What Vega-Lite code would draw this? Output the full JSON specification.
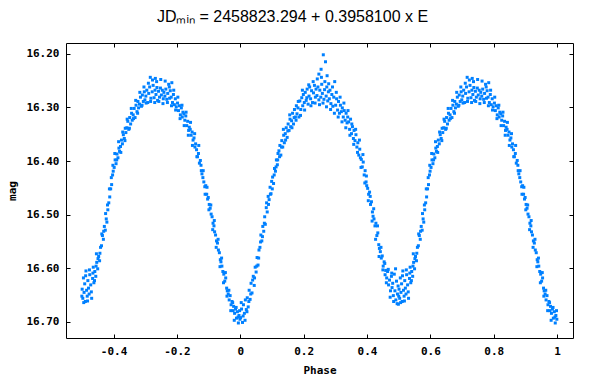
{
  "$schema": "https://vega.github.io/schema/vega-lite/v6.json",
  "width": 507,
  "height": 295,
  "autosize": "none",
  "padding": {"left": 66, "top": 43, "right": 36, "bottom": 44},
  "background": "white",
  "title": {
    "text": "JD\u2098\u1d62\u2099 = 2458823.294 + 0.3958100 x E",
    "font": "Liberation Sans",
    "fontSize": 16,
    "fontWeight": "normal",
    "color": "black",
    "anchor": "middle",
    "dx": -27,
    "offset": 18
  },
  "data": {"values": [
{"phase":0.001,"mag":16.692},{"phase":0.004,"mag":16.676},{"phase":0.007,"mag":16.701},{"phase":0.010,"mag":16.668},{"phase":0.013,"mag":16.684},{"phase":0.016,"mag":16.659},{"phase":0.019,"mag":16.677},
{"phase":0.022,"mag":16.655},{"phase":0.025,"mag":16.672},{"phase":0.028,"mag":16.641},{"phase":0.031,"mag":16.658},{"phase":0.034,"mag":16.628},{"phase":0.037,"mag":16.646},
{"phase":0.041,"mag":16.615},{"phase":0.044,"mag":16.632},{"phase":0.047,"mag":16.598},{"phase":0.050,"mag":16.607},{"phase":0.053,"mag":16.580},{"phase":0.056,"mag":16.594},{"phase":0.059,"mag":16.566},
{"phase":0.062,"mag":16.561},{"phase":0.065,"mag":16.538},{"phase":0.068,"mag":16.549},{"phase":0.071,"mag":16.522},{"phase":0.074,"mag":16.531},{"phase":0.077,"mag":16.504},{"phase":0.079,"mag":16.518},
{"phase":0.082,"mag":16.487},{"phase":0.085,"mag":16.495},{"phase":0.088,"mag":16.466},{"phase":0.091,"mag":16.472},{"phase":0.094,"mag":16.449},{"phase":0.097,"mag":16.461},{"phase":0.099,"mag":16.438},
{"phase":0.102,"mag":16.430},{"phase":0.105,"mag":16.442},{"phase":0.108,"mag":16.414},{"phase":0.111,"mag":16.419},{"phase":0.114,"mag":16.398},{"phase":0.117,"mag":16.407},{"phase":0.119,"mag":16.386},
{"phase":0.122,"mag":16.381},{"phase":0.125,"mag":16.371},{"phase":0.128,"mag":16.389},{"phase":0.131,"mag":16.362},{"phase":0.134,"mag":16.374},{"phase":0.137,"mag":16.352},{"phase":0.139,"mag":16.366},
{"phase":0.142,"mag":16.349},{"phase":0.145,"mag":16.338},{"phase":0.148,"mag":16.356},{"phase":0.151,"mag":16.331},{"phase":0.154,"mag":16.343},{"phase":0.157,"mag":16.322},{"phase":0.159,"mag":16.336},
{"phase":0.162,"mag":16.325},{"phase":0.165,"mag":16.311},{"phase":0.168,"mag":16.331},{"phase":0.171,"mag":16.304},{"phase":0.174,"mag":16.318},{"phase":0.177,"mag":16.297},{"phase":0.179,"mag":16.312},
{"phase":0.182,"mag":16.301},{"phase":0.185,"mag":16.318},{"phase":0.188,"mag":16.288},{"phase":0.191,"mag":16.304},{"phase":0.194,"mag":16.282},{"phase":0.197,"mag":16.297},{"phase":0.199,"mag":16.276},
{"phase":0.202,"mag":16.291},{"phase":0.205,"mag":16.272},{"phase":0.208,"mag":16.287},{"phase":0.211,"mag":16.266},{"phase":0.214,"mag":16.294},{"phase":0.217,"mag":16.279},{"phase":0.219,"mag":16.262},
{"phase":0.222,"mag":16.284},{"phase":0.225,"mag":16.269},{"phase":0.228,"mag":16.291},{"phase":0.231,"mag":16.273},{"phase":0.234,"mag":16.259},{"phase":0.237,"mag":16.281},{"phase":0.239,"mag":16.266},
{"phase":0.242,"mag":16.278},{"phase":0.245,"mag":16.262},{"phase":0.248,"mag":16.286},{"phase":0.248,"mag":16.238},{"phase":0.251,"mag":16.268},{"phase":0.254,"mag":16.281},{"phase":0.255,"mag":16.229},{"phase":0.257,"mag":16.257},{"phase":0.259,"mag":16.274},
{"phase":0.262,"mag":16.202},{"phase":0.264,"mag":16.285},{"phase":0.266,"mag":16.267},{"phase":0.269,"mag":16.215},{"phase":0.271,"mag":16.279},{"phase":0.273,"mag":16.262},{"phase":0.274,"mag":16.241},{"phase":0.276,"mag":16.288},{"phase":0.278,"mag":16.271},
{"phase":0.281,"mag":16.284},{"phase":0.283,"mag":16.268},{"phase":0.286,"mag":16.293},{"phase":0.289,"mag":16.276},{"phase":0.292,"mag":16.298},{"phase":0.295,"mag":16.281},{"phase":0.298,"mag":16.252},
{"phase":0.301,"mag":16.296},{"phase":0.304,"mag":16.284},{"phase":0.307,"mag":16.305},{"phase":0.310,"mag":16.289},{"phase":0.313,"mag":16.311},{"phase":0.316,"mag":16.296},{"phase":0.319,"mag":16.308},
{"phase":0.322,"mag":16.301},{"phase":0.325,"mag":16.318},{"phase":0.328,"mag":16.306},{"phase":0.331,"mag":16.324},{"phase":0.334,"mag":16.311},{"phase":0.337,"mag":16.329},{"phase":0.339,"mag":16.318},
{"phase":0.342,"mag":16.327},{"phase":0.345,"mag":16.341},{"phase":0.348,"mag":16.322},{"phase":0.351,"mag":16.349},{"phase":0.354,"mag":16.336},{"phase":0.357,"mag":16.358},{"phase":0.359,"mag":16.343},
{"phase":0.362,"mag":16.362},{"phase":0.365,"mag":16.351},{"phase":0.368,"mag":16.374},{"phase":0.371,"mag":16.366},{"phase":0.374,"mag":16.389},{"phase":0.377,"mag":16.378},{"phase":0.379,"mag":16.394},
{"phase":0.382,"mag":16.397},{"phase":0.385,"mag":16.411},{"phase":0.388,"mag":16.402},{"phase":0.391,"mag":16.426},{"phase":0.394,"mag":16.418},{"phase":0.397,"mag":16.439},{"phase":0.399,"mag":16.446},
{"phase":0.402,"mag":16.451},{"phase":0.405,"mag":16.462},{"phase":0.408,"mag":16.458},{"phase":0.411,"mag":16.481},{"phase":0.414,"mag":16.476},{"phase":0.417,"mag":16.495},{"phase":0.419,"mag":16.503},
{"phase":0.422,"mag":16.508},{"phase":0.425,"mag":16.521},{"phase":0.428,"mag":16.516},{"phase":0.431,"mag":16.539},{"phase":0.434,"mag":16.534},{"phase":0.437,"mag":16.556},{"phase":0.439,"mag":16.563},
{"phase":0.442,"mag":16.569},{"phase":0.445,"mag":16.581},{"phase":0.448,"mag":16.577},{"phase":0.451,"mag":16.596},{"phase":0.454,"mag":16.588},{"phase":0.457,"mag":16.612},{"phase":0.459,"mag":16.604},
{"phase":0.462,"mag":16.618},{"phase":0.465,"mag":16.606},{"phase":0.468,"mag":16.631},{"phase":0.471,"mag":16.622},{"phase":0.474,"mag":16.642},{"phase":0.477,"mag":16.615},{"phase":0.479,"mag":16.636},
{"phase":0.481,"mag":16.628},{"phase":0.483,"mag":16.651},{"phase":0.486,"mag":16.611},{"phase":0.488,"mag":16.642},{"phase":0.491,"mag":16.659},{"phase":0.493,"mag":16.624},{"phase":0.496,"mag":16.648},{"phase":0.498,"mag":16.633},{"phase":0.499,"mag":16.667},
{"phase":0.501,"mag":16.639},{"phase":0.503,"mag":16.656},{"phase":0.505,"mag":16.618},{"phase":0.507,"mag":16.645},{"phase":0.509,"mag":16.629},{"phase":0.511,"mag":16.662},{"phase":0.513,"mag":16.605},{"phase":0.515,"mag":16.641},{"phase":0.517,"mag":16.652},{"phase":0.519,"mag":16.623},
{"phase":0.521,"mag":16.637},{"phase":0.523,"mag":16.648},{"phase":0.525,"mag":16.612},{"phase":0.528,"mag":16.631},{"phase":0.531,"mag":16.656},{"phase":0.534,"mag":16.619},{"phase":0.536,"mag":16.598},{"phase":0.538,"mag":16.627},
{"phase":0.541,"mag":16.606},{"phase":0.544,"mag":16.615},{"phase":0.546,"mag":16.573},{"phase":0.547,"mag":16.589},{"phase":0.550,"mag":16.601},{"phase":0.553,"mag":16.578},{"phase":0.556,"mag":16.586},{"phase":0.559,"mag":16.561},
{"phase":0.562,"mag":16.558},{"phase":0.565,"mag":16.539},{"phase":0.568,"mag":16.546},{"phase":0.571,"mag":16.522},{"phase":0.574,"mag":16.529},{"phase":0.577,"mag":16.508},{"phase":0.579,"mag":16.514},
{"phase":0.582,"mag":16.491},{"phase":0.585,"mag":16.478},{"phase":0.588,"mag":16.467},{"phase":0.591,"mag":16.452},{"phase":0.594,"mag":16.444},{"phase":0.597,"mag":16.426},{"phase":0.599,"mag":16.419},
{"phase":0.602,"mag":16.412},{"phase":0.605,"mag":16.398},{"phase":0.608,"mag":16.405},{"phase":0.611,"mag":16.387},{"phase":0.614,"mag":16.394},{"phase":0.617,"mag":16.376},{"phase":0.619,"mag":16.382},
{"phase":0.622,"mag":16.373},{"phase":0.625,"mag":16.361},{"phase":0.628,"mag":16.368},{"phase":0.631,"mag":16.351},{"phase":0.634,"mag":16.358},{"phase":0.637,"mag":16.339},{"phase":0.639,"mag":16.347},
{"phase":0.642,"mag":16.338},{"phase":0.645,"mag":16.326},{"phase":0.648,"mag":16.341},{"phase":0.651,"mag":16.319},{"phase":0.654,"mag":16.331},{"phase":0.657,"mag":16.311},{"phase":0.659,"mag":16.324},
{"phase":0.662,"mag":16.314},{"phase":0.665,"mag":16.302},{"phase":0.668,"mag":16.319},{"phase":0.671,"mag":16.296},{"phase":0.674,"mag":16.308},{"phase":0.677,"mag":16.289},{"phase":0.679,"mag":16.301},
{"phase":0.682,"mag":16.294},{"phase":0.685,"mag":16.281},{"phase":0.688,"mag":16.298},{"phase":0.691,"mag":16.277},{"phase":0.694,"mag":16.289},{"phase":0.697,"mag":16.271},{"phase":0.699,"mag":16.286},
{"phase":0.702,"mag":16.279},{"phase":0.705,"mag":16.268},{"phase":0.708,"mag":16.291},{"phase":0.711,"mag":16.274},{"phase":0.714,"mag":16.262},{"phase":0.716,"mag":16.244},{"phase":0.718,"mag":16.283},
{"phase":0.722,"mag":16.271},{"phase":0.725,"mag":16.259},{"phase":0.728,"mag":16.282},{"phase":0.731,"mag":16.268},{"phase":0.732,"mag":16.246},{"phase":0.734,"mag":16.276},{"phase":0.737,"mag":16.263},{"phase":0.739,"mag":16.287},
{"phase":0.742,"mag":16.270},{"phase":0.745,"mag":16.281},{"phase":0.748,"mag":16.264},{"phase":0.751,"mag":16.277},{"phase":0.754,"mag":16.268},{"phase":0.757,"mag":16.284},{"phase":0.759,"mag":16.272},
{"phase":0.762,"mag":16.279},{"phase":0.765,"mag":16.266},{"phase":0.768,"mag":16.285},{"phase":0.771,"mag":16.274},{"phase":0.774,"mag":16.257},{"phase":0.777,"mag":16.283},{"phase":0.779,"mag":16.269},
{"phase":0.782,"mag":16.281},{"phase":0.784,"mag":16.254},{"phase":0.786,"mag":16.291},{"phase":0.789,"mag":16.276},{"phase":0.792,"mag":16.295},{"phase":0.795,"mag":16.284},{"phase":0.798,"mag":16.299},
{"phase":0.802,"mag":16.292},{"phase":0.805,"mag":16.306},{"phase":0.808,"mag":16.297},{"phase":0.811,"mag":16.314},{"phase":0.814,"mag":16.301},{"phase":0.817,"mag":16.318},{"phase":0.819,"mag":16.309},
{"phase":0.822,"mag":16.312},{"phase":0.825,"mag":16.324},{"phase":0.828,"mag":16.316},{"phase":0.831,"mag":16.334},{"phase":0.834,"mag":16.326},{"phase":0.837,"mag":16.343},{"phase":0.839,"mag":16.337},
{"phase":0.842,"mag":16.341},{"phase":0.845,"mag":16.352},{"phase":0.848,"mag":16.346},{"phase":0.851,"mag":16.361},{"phase":0.854,"mag":16.357},{"phase":0.857,"mag":16.374},{"phase":0.859,"mag":16.368},
{"phase":0.862,"mag":16.379},{"phase":0.865,"mag":16.392},{"phase":0.868,"mag":16.386},{"phase":0.871,"mag":16.404},{"phase":0.874,"mag":16.399},{"phase":0.877,"mag":16.418},{"phase":0.879,"mag":16.424},
{"phase":0.882,"mag":16.431},{"phase":0.885,"mag":16.439},{"phase":0.888,"mag":16.448},{"phase":0.891,"mag":16.446},{"phase":0.894,"mag":16.462},{"phase":0.897,"mag":16.471},{"phase":0.899,"mag":16.468},
{"phase":0.902,"mag":16.481},{"phase":0.905,"mag":16.488},{"phase":0.908,"mag":16.499},{"phase":0.911,"mag":16.504},{"phase":0.914,"mag":16.516},{"phase":0.917,"mag":16.521},{"phase":0.919,"mag":16.532},
{"phase":0.922,"mag":16.538},{"phase":0.925,"mag":16.549},{"phase":0.928,"mag":16.553},{"phase":0.931,"mag":16.566},{"phase":0.934,"mag":16.571},{"phase":0.937,"mag":16.584},{"phase":0.939,"mag":16.588},
{"phase":0.942,"mag":16.596},{"phase":0.945,"mag":16.606},{"phase":0.948,"mag":16.611},{"phase":0.951,"mag":16.624},{"phase":0.954,"mag":16.618},{"phase":0.957,"mag":16.637},{"phase":0.959,"mag":16.642},
{"phase":0.962,"mag":16.648},{"phase":0.965,"mag":16.659},{"phase":0.968,"mag":16.651},{"phase":0.971,"mag":16.668},{"phase":0.974,"mag":16.662},{"phase":0.977,"mag":16.679},{"phase":0.979,"mag":16.671},
{"phase":0.982,"mag":16.684},{"phase":0.985,"mag":16.676},{"phase":0.988,"mag":16.693},{"phase":0.991,"mag":16.681},{"phase":0.994,"mag":16.702},{"phase":0.996,"mag":16.688},{"phase":0.999,"mag":16.695},
{"phase":-0.499,"mag":16.639},{"phase":-0.497,"mag":16.656},{"phase":-0.495,"mag":16.618},{"phase":-0.493,"mag":16.645},{"phase":-0.491,"mag":16.629},{"phase":-0.489,"mag":16.662},{"phase":-0.487,"mag":16.605},{"phase":-0.485,"mag":16.641},{"phase":-0.483,"mag":16.652},{"phase":-0.481,"mag":16.623},
{"phase":-0.479,"mag":16.637},{"phase":-0.477,"mag":16.648},{"phase":-0.475,"mag":16.612},{"phase":-0.472,"mag":16.631},{"phase":-0.469,"mag":16.656},{"phase":-0.466,"mag":16.619},{"phase":-0.464,"mag":16.598},{"phase":-0.462,"mag":16.627},
{"phase":-0.459,"mag":16.606},{"phase":-0.456,"mag":16.615},{"phase":-0.454,"mag":16.573},{"phase":-0.453,"mag":16.589},{"phase":-0.450,"mag":16.601},{"phase":-0.447,"mag":16.578},{"phase":-0.444,"mag":16.586},{"phase":-0.441,"mag":16.561},
{"phase":-0.438,"mag":16.558},{"phase":-0.435,"mag":16.539},{"phase":-0.432,"mag":16.546},{"phase":-0.429,"mag":16.522},{"phase":-0.426,"mag":16.529},{"phase":-0.423,"mag":16.508},{"phase":-0.421,"mag":16.514},
{"phase":-0.418,"mag":16.491},{"phase":-0.415,"mag":16.478},{"phase":-0.412,"mag":16.467},{"phase":-0.409,"mag":16.452},{"phase":-0.406,"mag":16.444},{"phase":-0.403,"mag":16.426},{"phase":-0.401,"mag":16.419},
{"phase":-0.398,"mag":16.412},{"phase":-0.395,"mag":16.398},{"phase":-0.392,"mag":16.405},{"phase":-0.389,"mag":16.387},{"phase":-0.386,"mag":16.394},{"phase":-0.383,"mag":16.376},{"phase":-0.381,"mag":16.382},
{"phase":-0.378,"mag":16.373},{"phase":-0.375,"mag":16.361},{"phase":-0.372,"mag":16.368},{"phase":-0.369,"mag":16.351},{"phase":-0.366,"mag":16.358},{"phase":-0.363,"mag":16.339},{"phase":-0.361,"mag":16.347},
{"phase":-0.358,"mag":16.338},{"phase":-0.355,"mag":16.326},{"phase":-0.352,"mag":16.341},{"phase":-0.349,"mag":16.319},{"phase":-0.346,"mag":16.331},{"phase":-0.343,"mag":16.311},{"phase":-0.341,"mag":16.324},
{"phase":-0.338,"mag":16.314},{"phase":-0.335,"mag":16.302},{"phase":-0.332,"mag":16.319},{"phase":-0.329,"mag":16.296},{"phase":-0.326,"mag":16.308},{"phase":-0.323,"mag":16.289},{"phase":-0.321,"mag":16.301},
{"phase":-0.318,"mag":16.294},{"phase":-0.315,"mag":16.281},{"phase":-0.312,"mag":16.298},{"phase":-0.309,"mag":16.277},{"phase":-0.306,"mag":16.289},{"phase":-0.303,"mag":16.271},{"phase":-0.301,"mag":16.286},
{"phase":-0.298,"mag":16.279},{"phase":-0.295,"mag":16.268},{"phase":-0.292,"mag":16.291},{"phase":-0.289,"mag":16.274},{"phase":-0.286,"mag":16.262},{"phase":-0.284,"mag":16.244},{"phase":-0.282,"mag":16.283},
{"phase":-0.278,"mag":16.271},{"phase":-0.275,"mag":16.259},{"phase":-0.272,"mag":16.282},{"phase":-0.269,"mag":16.268},{"phase":-0.268,"mag":16.246},{"phase":-0.266,"mag":16.276},{"phase":-0.263,"mag":16.263},{"phase":-0.261,"mag":16.287},
{"phase":-0.258,"mag":16.270},{"phase":-0.255,"mag":16.281},{"phase":-0.252,"mag":16.264},{"phase":-0.249,"mag":16.277},{"phase":-0.246,"mag":16.268},{"phase":-0.243,"mag":16.284},{"phase":-0.241,"mag":16.272},
{"phase":-0.238,"mag":16.279},{"phase":-0.235,"mag":16.266},{"phase":-0.232,"mag":16.285},{"phase":-0.229,"mag":16.274},{"phase":-0.226,"mag":16.257},{"phase":-0.223,"mag":16.283},{"phase":-0.221,"mag":16.269},
{"phase":-0.218,"mag":16.281},{"phase":-0.216,"mag":16.254},{"phase":-0.214,"mag":16.291},{"phase":-0.211,"mag":16.276},{"phase":-0.208,"mag":16.295},{"phase":-0.205,"mag":16.284},{"phase":-0.202,"mag":16.299},
{"phase":-0.198,"mag":16.292},{"phase":-0.195,"mag":16.306},{"phase":-0.192,"mag":16.297},{"phase":-0.189,"mag":16.314},{"phase":-0.186,"mag":16.301},{"phase":-0.183,"mag":16.318},{"phase":-0.181,"mag":16.309},
{"phase":-0.178,"mag":16.312},{"phase":-0.175,"mag":16.324},{"phase":-0.172,"mag":16.316},{"phase":-0.169,"mag":16.334},{"phase":-0.166,"mag":16.326},{"phase":-0.163,"mag":16.343},{"phase":-0.161,"mag":16.337},
{"phase":-0.158,"mag":16.341},{"phase":-0.155,"mag":16.352},{"phase":-0.152,"mag":16.346},{"phase":-0.149,"mag":16.361},{"phase":-0.146,"mag":16.357},{"phase":-0.143,"mag":16.374},{"phase":-0.141,"mag":16.368},
{"phase":-0.138,"mag":16.379},{"phase":-0.135,"mag":16.392},{"phase":-0.132,"mag":16.386},{"phase":-0.129,"mag":16.404},{"phase":-0.126,"mag":16.399},{"phase":-0.123,"mag":16.418},{"phase":-0.121,"mag":16.424},
{"phase":-0.118,"mag":16.431},{"phase":-0.115,"mag":16.439},{"phase":-0.112,"mag":16.448},{"phase":-0.109,"mag":16.446},{"phase":-0.106,"mag":16.462},{"phase":-0.103,"mag":16.471},{"phase":-0.101,"mag":16.468},
{"phase":-0.098,"mag":16.481},{"phase":-0.095,"mag":16.488},{"phase":-0.092,"mag":16.499},{"phase":-0.089,"mag":16.504},{"phase":-0.086,"mag":16.516},{"phase":-0.083,"mag":16.521},{"phase":-0.081,"mag":16.532},
{"phase":-0.078,"mag":16.538},{"phase":-0.075,"mag":16.549},{"phase":-0.072,"mag":16.553},{"phase":-0.069,"mag":16.566},{"phase":-0.066,"mag":16.571},{"phase":-0.063,"mag":16.584},{"phase":-0.061,"mag":16.588},
{"phase":-0.058,"mag":16.596},{"phase":-0.055,"mag":16.606},{"phase":-0.052,"mag":16.611},{"phase":-0.049,"mag":16.624},{"phase":-0.046,"mag":16.618},{"phase":-0.043,"mag":16.637},{"phase":-0.041,"mag":16.642},
{"phase":-0.038,"mag":16.648},{"phase":-0.035,"mag":16.659},{"phase":-0.032,"mag":16.651},{"phase":-0.029,"mag":16.668},{"phase":-0.026,"mag":16.662},{"phase":-0.023,"mag":16.679},{"phase":-0.021,"mag":16.671},
{"phase":-0.018,"mag":16.684},{"phase":-0.015,"mag":16.676},{"phase":-0.012,"mag":16.693},{"phase":-0.009,"mag":16.681},{"phase":-0.006,"mag":16.702},{"phase":-0.004,"mag":16.688},{"phase":-0.001,"mag":16.695},
{"phase":0.003,"mag":16.664},{"phase":0.009,"mag":16.689},{"phase":0.015,"mag":16.697},{"phase":0.021,"mag":16.681},{"phase":0.027,"mag":16.662},{"phase":0.033,"mag":16.648},{"phase":0.039,"mag":16.622},{"phase":0.045,"mag":16.618},{"phase":0.052,"mag":16.596},{"phase":0.058,"mag":16.581},
{"phase":0.064,"mag":16.551},{"phase":0.070,"mag":16.541},{"phase":0.076,"mag":16.516},{"phase":0.083,"mag":16.478},{"phase":0.089,"mag":16.481},{"phase":0.095,"mag":16.462},{"phase":0.101,"mag":16.452},{"phase":0.107,"mag":16.426},{"phase":0.113,"mag":16.411},{"phase":0.118,"mag":16.398},
{"phase":0.124,"mag":16.392},{"phase":0.130,"mag":16.374},{"phase":0.136,"mag":16.341},{"phase":0.143,"mag":16.361},{"phase":0.150,"mag":16.344},{"phase":0.156,"mag":16.314},{"phase":0.163,"mag":16.338},{"phase":0.170,"mag":16.319},{"phase":0.176,"mag":16.324},{"phase":0.183,"mag":16.289},
{"phase":0.190,"mag":16.315},{"phase":0.196,"mag":16.268},{"phase":0.203,"mag":16.305},{"phase":0.210,"mag":16.282},{"phase":0.216,"mag":16.258},{"phase":0.223,"mag":16.297},{"phase":0.230,"mag":16.252},{"phase":0.236,"mag":16.292},{"phase":0.243,"mag":16.247},{"phase":0.250,"mag":16.295},
{"phase":0.256,"mag":16.244},{"phase":0.261,"mag":16.292},{"phase":0.267,"mag":16.252},{"phase":0.272,"mag":16.299},{"phase":0.279,"mag":16.256},{"phase":0.285,"mag":16.304},{"phase":0.291,"mag":16.262},{"phase":0.297,"mag":16.311},{"phase":0.303,"mag":16.272},{"phase":0.309,"mag":16.318},
{"phase":0.315,"mag":16.281},{"phase":0.321,"mag":16.327},{"phase":0.327,"mag":16.292},{"phase":0.333,"mag":16.338},{"phase":0.340,"mag":16.306},{"phase":0.346,"mag":16.352},{"phase":0.352,"mag":16.331},{"phase":0.358,"mag":16.369},{"phase":0.364,"mag":16.341},{"phase":0.370,"mag":16.384},
{"phase":0.376,"mag":16.361},{"phase":0.381,"mag":16.412},{"phase":0.387,"mag":16.388},{"phase":0.393,"mag":16.441},{"phase":0.398,"mag":16.428},{"phase":0.404,"mag":16.474},{"phase":0.410,"mag":16.466},{"phase":0.416,"mag":16.512},{"phase":0.421,"mag":16.489},{"phase":0.427,"mag":16.546},
{"phase":0.433,"mag":16.521},{"phase":0.438,"mag":16.578},{"phase":0.444,"mag":16.561},{"phase":0.450,"mag":16.603},{"phase":0.456,"mag":16.591},{"phase":0.461,"mag":16.627},{"phase":0.467,"mag":16.602},{"phase":0.473,"mag":16.654},{"phase":0.478,"mag":16.609},{"phase":0.484,"mag":16.662},
{"phase":0.490,"mag":16.601},{"phase":0.495,"mag":16.666},
{"phase":0.500,"mag":16.652},{"phase":0.506,"mag":16.664},{"phase":0.512,"mag":16.614},{"phase":0.518,"mag":16.661},{"phase":0.524,"mag":16.603},{"phase":0.530,"mag":16.644},{"phase":0.535,"mag":16.609},{"phase":0.540,"mag":16.623},{"phase":0.545,"mag":16.596},{"phase":0.551,"mag":16.582},
{"phase":0.557,"mag":16.572},{"phase":0.563,"mag":16.536},{"phase":0.569,"mag":16.531},{"phase":0.575,"mag":16.498},{"phase":0.581,"mag":16.482},{"phase":0.587,"mag":16.452},{"phase":0.593,"mag":16.431},{"phase":0.598,"mag":16.408},{"phase":0.604,"mag":16.386},{"phase":0.610,"mag":16.398},
{"phase":0.616,"mag":16.364},{"phase":0.623,"mag":16.384},{"phase":0.629,"mag":16.346},{"phase":0.636,"mag":16.362},{"phase":0.643,"mag":16.322},{"phase":0.650,"mag":16.339},{"phase":0.656,"mag":16.302},{"phase":0.663,"mag":16.321},{"phase":0.670,"mag":16.287},{"phase":0.676,"mag":16.311},
{"phase":0.683,"mag":16.272},{"phase":0.690,"mag":16.296},{"phase":0.696,"mag":16.262},{"phase":0.703,"mag":16.292},{"phase":0.710,"mag":16.255},{"phase":0.717,"mag":16.289},{"phase":0.723,"mag":16.249},{"phase":0.730,"mag":16.291},{"phase":0.736,"mag":16.252},{"phase":0.743,"mag":16.289},
{"phase":0.749,"mag":16.248},{"phase":0.756,"mag":16.293},{"phase":0.763,"mag":16.251},{"phase":0.770,"mag":16.291},{"phase":0.776,"mag":16.262},{"phase":0.783,"mag":16.297},{"phase":0.790,"mag":16.268},{"phase":0.796,"mag":16.305},{"phase":0.803,"mag":16.281},{"phase":0.810,"mag":16.321},
{"phase":0.816,"mag":16.296},{"phase":0.823,"mag":16.334},{"phase":0.829,"mag":16.309},{"phase":0.836,"mag":16.352},{"phase":0.843,"mag":16.328},{"phase":0.849,"mag":16.371},{"phase":0.856,"mag":16.349},{"phase":0.863,"mag":16.392},{"phase":0.869,"mag":16.371},{"phase":0.876,"mag":16.408},
{"phase":0.883,"mag":16.418},{"phase":0.889,"mag":16.462},{"phase":0.895,"mag":16.449},{"phase":0.901,"mag":16.491},{"phase":0.907,"mag":16.482},{"phase":0.913,"mag":16.528},{"phase":0.918,"mag":16.511},{"phase":0.924,"mag":16.561},{"phase":0.930,"mag":16.546},{"phase":0.936,"mag":16.597},
{"phase":0.941,"mag":16.581},{"phase":0.947,"mag":16.627},{"phase":0.953,"mag":16.608},{"phase":0.958,"mag":16.652},{"phase":0.964,"mag":16.641},{"phase":0.970,"mag":16.679},{"phase":0.976,"mag":16.664},{"phase":0.981,"mag":16.697},{"phase":0.987,"mag":16.673},{"phase":0.993,"mag":16.691},{"phase":0.998,"mag":16.679},
{"phase":-0.500,"mag":16.652},{"phase":-0.494,"mag":16.664},{"phase":-0.488,"mag":16.614},{"phase":-0.482,"mag":16.661},{"phase":-0.476,"mag":16.603},{"phase":-0.470,"mag":16.644},{"phase":-0.465,"mag":16.609},{"phase":-0.460,"mag":16.623},{"phase":-0.455,"mag":16.596},{"phase":-0.449,"mag":16.582},
{"phase":-0.443,"mag":16.572},{"phase":-0.437,"mag":16.536},{"phase":-0.431,"mag":16.531},{"phase":-0.425,"mag":16.498},{"phase":-0.419,"mag":16.482},{"phase":-0.413,"mag":16.452},{"phase":-0.407,"mag":16.431},{"phase":-0.402,"mag":16.408},{"phase":-0.396,"mag":16.386},{"phase":-0.390,"mag":16.398},
{"phase":-0.384,"mag":16.364},{"phase":-0.377,"mag":16.384},{"phase":-0.371,"mag":16.346},{"phase":-0.364,"mag":16.362},{"phase":-0.357,"mag":16.322},{"phase":-0.350,"mag":16.339},{"phase":-0.344,"mag":16.302},{"phase":-0.337,"mag":16.321},{"phase":-0.330,"mag":16.287},{"phase":-0.324,"mag":16.311},
{"phase":-0.317,"mag":16.272},{"phase":-0.310,"mag":16.296},{"phase":-0.304,"mag":16.262},{"phase":-0.297,"mag":16.292},{"phase":-0.290,"mag":16.255},{"phase":-0.283,"mag":16.289},{"phase":-0.277,"mag":16.249},{"phase":-0.270,"mag":16.291},{"phase":-0.264,"mag":16.252},{"phase":-0.257,"mag":16.289},
{"phase":-0.251,"mag":16.248},{"phase":-0.244,"mag":16.293},{"phase":-0.237,"mag":16.251},{"phase":-0.230,"mag":16.291},{"phase":-0.224,"mag":16.262},{"phase":-0.217,"mag":16.297},{"phase":-0.210,"mag":16.268},{"phase":-0.204,"mag":16.305},{"phase":-0.197,"mag":16.281},{"phase":-0.190,"mag":16.321},
{"phase":-0.184,"mag":16.296},{"phase":-0.177,"mag":16.334},{"phase":-0.171,"mag":16.309},{"phase":-0.164,"mag":16.352},{"phase":-0.157,"mag":16.328},{"phase":-0.151,"mag":16.371},{"phase":-0.144,"mag":16.349},{"phase":-0.137,"mag":16.392},{"phase":-0.131,"mag":16.371},{"phase":-0.124,"mag":16.408},
{"phase":-0.117,"mag":16.418},{"phase":-0.111,"mag":16.462},{"phase":-0.105,"mag":16.449},{"phase":-0.099,"mag":16.491},{"phase":-0.093,"mag":16.482},{"phase":-0.087,"mag":16.528},{"phase":-0.082,"mag":16.511},{"phase":-0.076,"mag":16.561},{"phase":-0.070,"mag":16.546},{"phase":-0.064,"mag":16.597},
{"phase":-0.059,"mag":16.581},{"phase":-0.053,"mag":16.627},{"phase":-0.047,"mag":16.608},{"phase":-0.042,"mag":16.652},{"phase":-0.036,"mag":16.641},{"phase":-0.030,"mag":16.679},{"phase":-0.024,"mag":16.664},{"phase":-0.019,"mag":16.697},{"phase":-0.013,"mag":16.673},{"phase":-0.007,"mag":16.691},{"phase":-0.002,"mag":16.679}
  ]},
  "layer": [
    {
      "mark": {"type": "square", "size": 9, "color": "#0080ff", "opacity": 1, "strokeWidth": 0},
      "encoding": {
        "x": {
          "field": "phase", "type": "quantitative",
          "scale": {"domain": [-0.55, 1.05], "nice": false, "zero": false},
          "axis": {
            "orient": "bottom",
            "values": [-0.4, -0.2, 0, 0.2, 0.4, 0.6, 0.8, 1],
            "labelExpr": "'' + datum.value",
            "title": "Phase",
            "titlePadding": 8
          }
        },
        "y": {
          "field": "mag", "type": "quantitative",
          "scale": {"domain": [16.18, 16.73], "nice": false, "zero": false, "reverse": true},
          "axis": {
            "orient": "left",
            "values": [16.2, 16.3, 16.4, 16.5, 16.6, 16.7],
            "format": ".2f",
            "title": "mag",
            "titlePadding": 8
          }
        }
      }
    },
    {
      "mark": {"type": "square", "size": 9, "opacity": 0},
      "encoding": {
        "x": {
          "field": "phase", "type": "quantitative",
          "axis": {"orient": "top", "labels": false, "title": null, "values": [-0.4, -0.2, 0, 0.2, 0.4, 0.6, 0.8, 1]}
        },
        "y": {
          "field": "mag", "type": "quantitative",
          "axis": {"orient": "right", "labels": false, "title": null, "values": [16.2, 16.3, 16.4, 16.5, 16.6, 16.7]}
        }
      }
    }
  ],
  "resolve": {"axis": {"x": "independent", "y": "independent"}},
  "config": {
    "view": {"stroke": "black", "strokeWidth": 1},
    "axis": {
      "domain": false,
      "grid": false,
      "ticks": true,
      "tickSize": -4,
      "tickColor": "black",
      "tickWidth": 1,
      "labelPadding": 11,
      "labelFont": "DejaVu Sans Mono",
      "labelFontSize": 11,
      "labelFontWeight": "bold",
      "labelColor": "black",
      "titleFont": "DejaVu Sans Mono",
      "titleFontSize": 11,
      "titleFontWeight": "bold",
      "titleColor": "black"
    }
  }
}
